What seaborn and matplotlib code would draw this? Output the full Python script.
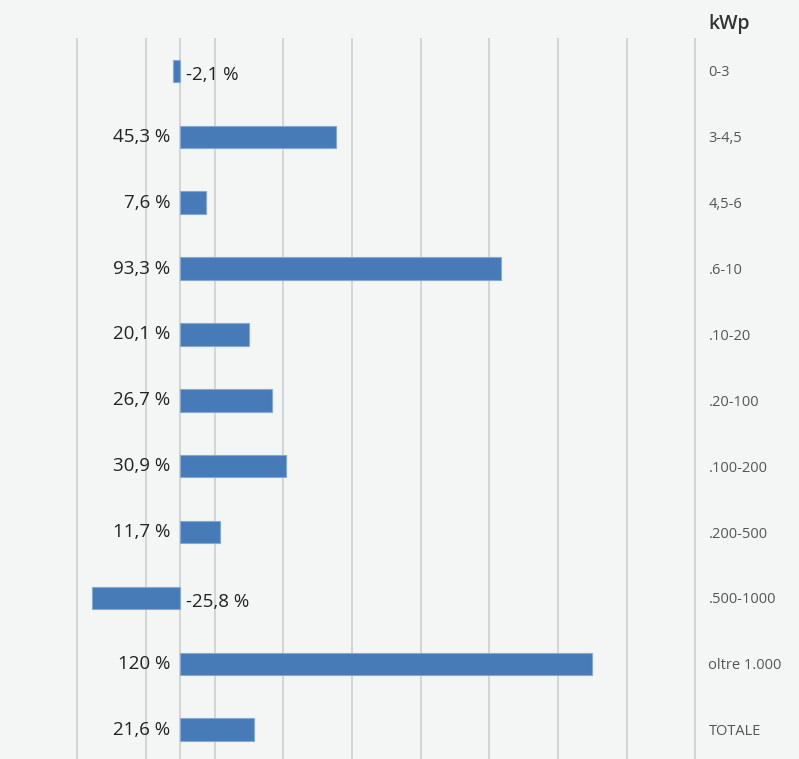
import matplotlib
matplotlib.use("Agg")
import matplotlib.pyplot as plt
import seaborn as sns
import pandas as pd

# Variazione percentuale della potenza installata per classe di taglia (kWp)
classi = ["0-3", "3-4,5", "4,5-6", ".6-10", ".10-20", ".20-100", ".100-200",
          ".200-500", ".500-1000", "oltre 1.000", "TOTALE"]
variazioni = [-2.1, 45.3, 7.6, 93.3, 20.1, 26.7, 30.9, 11.7, -25.8, 120.0, 21.6]
etichette = ["-2,1 %", "45,3 %", "7,6 %", "93,3 %", "20,1 %", "26,7 %", "30,9 %",
             "11,7 %", "-25,8 %", "120 %", "21,6 %"]
griglia = [-30, -10, 10, 30, 50, 70, 90, 110, 130, 150]

df = pd.DataFrame({"classe": classi, "variazione": variazioni})

BG = "#f3f6f5"
BAR = "#467bb8"
GRID = "#cfd3d3"

sns.set_theme(style="white")
plt.rcParams["font.family"] = ["Open Sans", "DejaVu Sans"]

fig = plt.figure(figsize=(7.99, 7.59), dpi=100, facecolor=BG)
ax = fig.add_axes([73.9 / 799, 0, (698.7 - 73.9) / 799, 721 / 759])
ax.set_facecolor(BG)

sns.barplot(data=df, x="variazione", y="classe", orient="h", color=BAR,
            width=0.34, saturation=1, edgecolor="#86a9d3", linewidth=0.8,
            ax=ax, zorder=3)

ax.set_xlim(-31, 151)
ax.set_ylim(10.445, -0.5)
ax.set_xticks(griglia)
ax.set_xticklabels([])
ax.grid(axis="x", color=GRID, linewidth=1.3, zorder=0)
ax.grid(axis="y", visible=False)
ax.axvline(0, color=GRID, linewidth=1.3, zorder=1)
for s in ax.spines.values():
    s.set_visible(False)

ax.set_xlabel("")
ax.set_ylabel("")
ax.yaxis.tick_right()
ax.tick_params(axis="y", length=0, pad=7, labelsize=10.5, labelcolor="#555555")
ax.tick_params(axis="x", length=0)

for i, (v, t) in enumerate(zip(variazioni, etichette)):
    if v >= 0:
        ax.text(-3.0, i, t, ha="right", va="center", fontsize=13.5,
                color="#222222", zorder=4)
    else:
        ax.text(1.6, i + 0.06, t, ha="left", va="center", fontsize=13.5,
                color="#222222", zorder=4)

fig.text(708 / 799, 1 - 24 / 759, "kWp", ha="left", va="center",
         fontsize=14, fontweight="semibold", color="#333333")

fig.savefig("out.png", dpi=100, facecolor=BG)
